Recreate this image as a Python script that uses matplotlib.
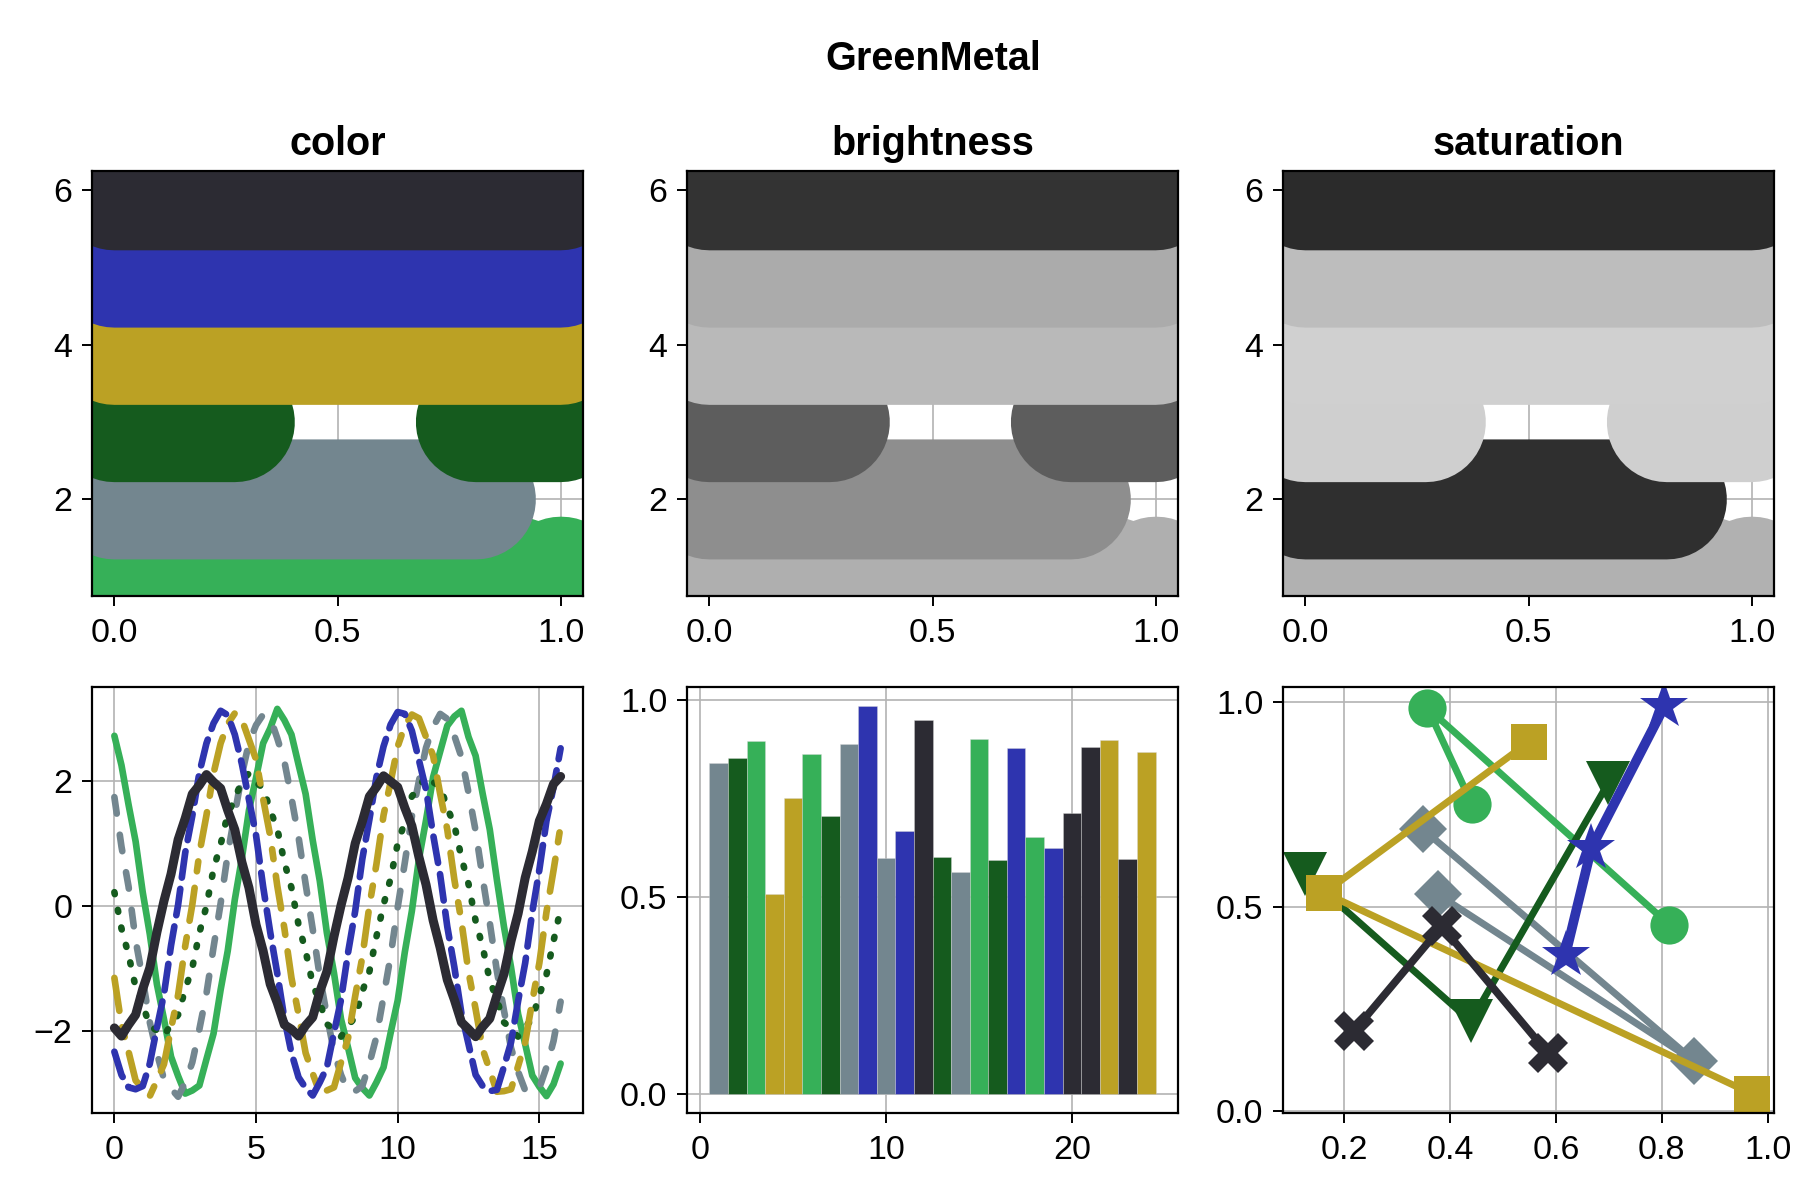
import numpy as np
import matplotlib
matplotlib.use("Agg")
import matplotlib.pyplot as plt

plt.rcParams['font.family'] = ['Liberation Sans', 'DejaVu Sans']

# -----------------------------
# palette and its grey versions
# -----------------------------
palette = ['#36b058', '#73868f', '#155b1e', '#bba124', '#2e34af', '#2c2b33']
brightness_greys = ['#afafaf', '#8e8e8e', '#5d5d5d', '#b9b9b9', '#ababab', '#333333']
saturation_greys = ['#b1b1b1', '#2f2f2f', '#cfcfcf', '#d0d0d0', '#bdbdbd', '#2b2b2b']

band_levels = [1, 2, 3, 4, 5, 6]
band_segments = [
    [(0.0, 0.9), (1.0, 1.0)],
    [(0.0, 0.81)],
    [(0.0, 0.27), (0.81, 1.0)],
    [(0.0, 1.0)],
    [(0.0, 1.0)],
    [(0.0, 1.0)],
]

# -----------------------------
# noisy waves (sampled every 0.25)
# -----------------------------
wave_x = np.arange(64) * 0.25
wave_green = [2.72, 2.25, 1.62, 1.03, 0.22, -0.45, -1.25, -1.81,
              -2.41, -2.72, -3.00, -2.95, -2.87, -2.45, -2.04, -1.34,
              -0.72, 0.10, 0.76, 1.53, 2.05, 2.60, 2.84, 3.15,
              2.97, 2.74, 2.26, 1.79, 1.05, 0.40, -0.43, -1.07,
              -1.81, -2.27, -2.75, -2.91, -3.03, -2.82, -2.58, -2.03,
              -1.51, -0.74, -0.08, 0.75, 1.37, 2.06, 2.47, 2.88,
              3.03, 3.12, 2.70, 2.40, 1.79, 1.22, 0.42, -0.33,
              -0.98, -1.73, -2.21, -2.71, -2.89, -3.04, -2.85, -2.52]
wave_grey = [1.74, 0.95, 0.31, -0.55, -1.17, -1.86, -2.35, -2.77,
             -2.92, -3.05, -2.82, -2.50, -1.97, -1.40, -0.66, 0.04,
             0.83, 1.47, 2.10, 2.61, 2.89, 3.06, 3.01, 2.68,
             2.31, 1.73, 1.10, 0.35, -0.37, -1.13, -1.75, -2.33,
             -2.70, -2.97, -2.96, -2.88, -2.52, -2.09, -1.45, -0.80,
             -0.02, 0.69, 1.43, 2.00, 2.53, 2.86, 3.07, 2.99,
             2.72, 2.38, 1.81, 1.20, 0.44, -0.27, -1.04, -1.67,
             -2.27, -2.65, -2.95, -2.98, -2.91, -2.58, -2.16, -1.53]
wave_darkgreen = [0.22, -0.36, -0.78, -1.30, -1.58, -1.92, -1.99, -2.08,
                  -1.89, -1.74, -1.33, -0.99, -0.43, 0.00, 0.59, 0.98,
                  1.47, 1.71, 2.00, 2.12, 1.97, 1.89, 1.53, 1.23,
                  0.70, 0.29, -0.30, -0.72, -1.25, -1.54, -1.89, -1.97,
                  -2.09, -1.91, -1.78, -1.37, -1.05, -0.49, 0.02, 0.44,
                  1.00, 1.34, 1.75, 1.90, 2.08, 1.98, 1.91, 1.57,
                  1.29, 0.77, 0.35, -0.24, -0.66, -1.19, -1.50, -1.86,
                  -1.96, -2.09, -1.93, -1.81, -1.42, -1.10, -0.56, -0.05]
wave_gold = [-1.15, -1.90, -2.33, -2.79, -2.92, -3.04, -2.79, -2.53,
             -1.96, -1.42, -0.64, 0.02, 0.84, 1.45, 2.12, 2.60,
             2.91, 3.08, 2.98, 2.66, 2.34, 1.71, 1.12, 0.32,
             -0.36, -1.15, -1.73, -2.35, -2.68, -2.99, -2.95, -2.90,
             -2.50, -2.11, -1.44, -0.82, 0.00, 0.67, 1.45, 1.98,
             2.55, 2.88, 3.06, 3.00, 2.70, 2.40, 1.79, 1.22,
             0.42, -0.25, -1.06, -1.65, -2.29, -2.63, -2.97, -2.96,
             -2.93, -2.56, -2.18, -1.52, -0.91, -0.10, 0.57, 1.28]
wave_blue = [-2.33, -2.70, -2.90, -2.93, -2.88, -2.52, -1.95, -1.41,
             -0.63, 0.02, 0.85, 1.44, 2.13, 2.60, 2.92, 3.12,
             3.05, 2.74, 2.27, 1.70, 1.13, 0.31, -0.42, -1.08,
             -1.80, -2.35, -2.74, -2.91, -3.03, -2.82, -2.58, -2.03,
             -1.50, -0.74, -0.08, 0.75, 1.38, 2.06, 2.55, 2.90,
             3.10, 3.07, 2.80, 2.33, 1.86, 1.14, 0.49, -0.33,
             -0.98, -1.72, -2.21, -2.70, -2.88, -2.96, -2.94, -2.57,
             -2.18, -1.52, -0.91, -0.10, 0.58, 1.36, 1.90, 2.52]
wave_black = [-1.95, -2.08, -1.90, -1.74, -1.33, -0.99, -0.42, 0.08,
              0.51, 1.06, 1.40, 1.79, 1.93, 2.10, 1.98, 1.88,
              1.53, 1.22, 0.70, 0.29, -0.30, -0.72, -1.25, -1.55,
              -1.90, -1.97, -2.08, -1.91, -1.78, -1.37, -1.05, -0.49,
              0.01, 0.45, 1.00, 1.35, 1.75, 1.90, 2.08, 1.99,
              1.90, 1.57, 1.28, 0.78, 0.34, -0.23, -0.67, -1.18,
              -1.50, -1.86, -1.97, -2.09, -1.93, -1.80, -1.43, -1.09,
              -0.56, -0.12, 0.45, 0.87, 1.36, 1.63, 1.95, 2.07]
waves = [wave_green, wave_grey, wave_darkgreen, wave_gold, wave_blue, wave_black]
# dash patterns in linewidth units (round caps add one linewidth to every dash)
wave_styles = ['-', (0, (2.5, 3.2)), (0, (0.3, 2.4)), (0, (5.0, 2.5, 1.5, 2.5)),
               (0, (4.0, 1.7)), '-']
wave_lw = [4.8, 4.8, 4.8, 4.8, 4.8, 6.5]

# -----------------------------
# bars
# -----------------------------
bar_heights = [0.840, 0.853, 0.897, 0.508, 0.750, 0.863, 0.705, 0.887,
               0.984, 0.599, 0.667, 0.950, 0.600, 0.564, 0.902, 0.593,
               0.878, 0.652, 0.625, 0.713, 0.880, 0.899, 0.595, 0.868]
bar_color_idx = [1, 2, 0, 3, 3, 0, 2, 1, 4, 1, 4, 5, 2, 1, 0, 2, 4, 0, 4, 5, 5, 3, 5, 3]
bar_x = np.arange(1, len(bar_heights) + 1)

# -----------------------------
# scatter lines
# -----------------------------
sl_x = [[0.441, 0.357, 0.814],
        [0.348, 0.860, 0.377],
        [0.126, 0.439, 0.699],
        [0.548, 0.162, 0.970],
        [0.805, 0.667, 0.618],
        [0.218, 0.384, 0.584]]
sl_y = [[0.751, 0.986, 0.456],
        [0.690, 0.124, 0.530],
        [0.579, 0.220, 0.803],
        [0.902, 0.534, 0.043],
        [0.990, 0.644, 0.383],
        [0.196, 0.452, 0.143]]
sl_markers = ['o', 'D', 'v', 's', '*', 'X']
sl_msize = [27.5, 24.5, 31, 25.5, 36, 29]
sl_lw = [5.0, 5.0, 5.0, 5.0, 7.0, 5.5]

TICK_FS = 24.5
TITLE_FS = 28.5
GRID_C = '#b3b3b3'

fig = plt.figure(figsize=(18, 12), dpi=100)

col_left = [92 / 1800, 687 / 1800, 1283 / 1800]
col_w = 491 / 1800
top_row = (1 - 596 / 1200, 425 / 1200)
bot_row = (1 - 1113 / 1200, 426 / 1200)


def style_axes(ax):
    ax.set_axisbelow(True)
    ax.grid(True, color=GRID_C, lw=1.2)
    for s in ax.spines.values():
        s.set_linewidth(1.6)
        s.set_color('black')
    ax.tick_params(direction='out', length=7, width=1.4, labelsize=TICK_FS)
    ax.tick_params(axis='x', pad=9)
    ax.tick_params(axis='y', pad=7)


band_lw = 120 * 72 / 100
titles = ['color', 'brightness', 'saturation']
band_colors = [palette, brightness_greys, saturation_greys]
for i in range(3):
    ax = fig.add_axes([col_left[i], top_row[0], col_w, top_row[1]])
    style_axes(ax)
    for lev, segs, col in zip(band_levels, band_segments, band_colors[i]):
        for x0, x1 in segs:
            if x1 - x0 < 1e-3:
                x1 = x0 + 2e-3
            ax.plot([x0, x1], [lev, lev], color=col, lw=band_lw,
                    solid_capstyle='round', snap=False)
    ax.set_xlim(-0.05, 1.05)
    ax.set_ylim(0.75, 6.25)
    ax.set_xticks([0.0, 0.5, 1.0])
    ax.set_xticklabels(['0.0', '0.5', '1.0'])
    ax.set_yticks([2, 4, 6])
    ax.set_title(titles[i], fontsize=TITLE_FS, fontweight='bold', pad=11.5)

# waves
ax = fig.add_axes([col_left[0], bot_row[0], col_w, bot_row[1]])
style_axes(ax)
for y, col, ls, lw in zip(waves, palette, wave_styles, wave_lw):
    ax.plot(wave_x, y, color=col, lw=lw, linestyle=ls,
            solid_capstyle='round', dash_capstyle='round',
            solid_joinstyle='round', dash_joinstyle='round')
ax.set_xlim(-0.79, 16.54)
ax.set_ylim(-3.31, 3.50)
ax.set_xticks([0, 5, 10, 15])
ax.set_yticks([-2, 0, 2])

# bars
ax = fig.add_axes([col_left[1], bot_row[0], col_w, bot_row[1]])
style_axes(ax)
ax.bar(bar_x, bar_heights, width=1.0, color=[palette[k] for k in bar_color_idx],
       edgecolor=(0.85, 0.85, 0.85, 0.45), linewidth=0.6)
ax.set_xlim(-0.7, 25.7)
ax.set_ylim(-0.049, 1.033)
ax.set_xticks([0, 10, 20])
ax.set_yticks([0.0, 0.5, 1.0])
ax.set_yticklabels(['0.0', '0.5', '1.0'])

# scatter lines
ax = fig.add_axes([col_left[2], bot_row[0], col_w, bot_row[1]])
style_axes(ax)
for xs, ys, col, mk, ms, lw in zip(sl_x, sl_y, palette, sl_markers, sl_msize, sl_lw):
    ax.plot(xs, ys, color=col, lw=lw, marker=mk, markersize=ms,
            markeredgewidth=0, solid_joinstyle='round')
ax.set_xlim(0.084, 1.012)
ax.set_ylim(-0.004, 1.037)
ax.set_xticks([0.2, 0.4, 0.6, 0.8, 1.0])
ax.set_xticklabels(['0.2', '0.4', '0.6', '0.8', '1.0'])
ax.set_yticks([0.0, 0.5, 1.0])
ax.set_yticklabels(['0.0', '0.5', '1.0'])

fig.text((92 + 1774) / 2 / 1800, 1 - 70 / 1200, 'GreenMetal', ha='center',
         va='baseline', fontsize=TITLE_FS, fontweight='bold')

fig.savefig('out.png', dpi=100)
